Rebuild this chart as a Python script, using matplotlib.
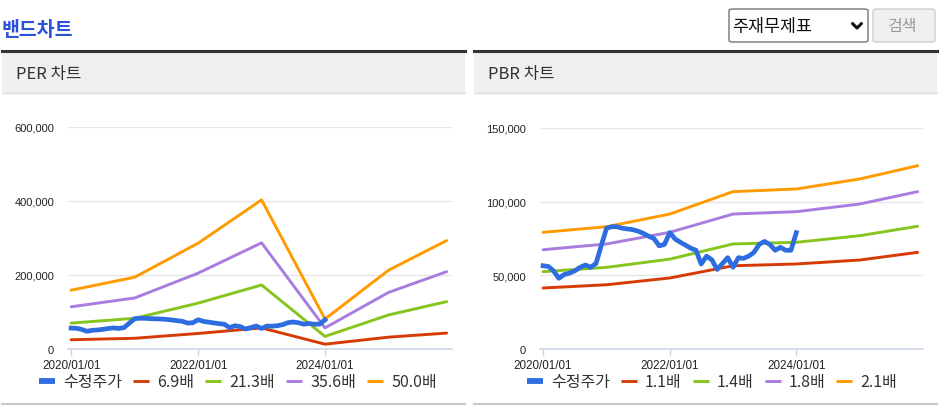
import numpy as np
import pandas as pd
import matplotlib
matplotlib.use("Agg")
from matplotlib import pyplot as plt
from matplotlib.patches import Rectangle, FancyBboxPatch
from matplotlib.lines import Line2D
import matplotlib.dates as mdates

plt.rcParams['font.family'] = ['Liberation Sans', 'Noto Sans CJK KR', 'DejaVu Sans']
KR = ['Noto Sans CJK KR', 'DejaVu Sans']

# ---- data ----
price_dates = pd.date_range('2020-01-01', '2024-01-01', freq='MS')
price = [56500, 56000, 53000, 48000, 50500, 51500, 53000, 55400, 57000, 55500,
         58000, 70000, 82000, 83000, 83000, 82000, 81500, 81000, 80000, 78500,
         76500, 75000, 70000, 71000, 79000, 74600, 72600, 70500, 68500, 67000,
         57700, 63000, 60500, 54000, 58000, 62000, 55500, 62000, 61500, 63000,
         65500, 71000, 73000, 71000, 67000, 69000, 67000, 67000, 79000]

band_dates = pd.to_datetime(['2020-01-01', '2021-01-01', '2022-01-01', '2023-01-01',
                             '2024-01-01', '2025-01-01', '2025-12-01'])

per_labels = ['6.9배', '21.3배', '35.6배', '50.0배']
per_bands = [
    [25000, 29000, 42000, 57000, 13000, 32000, 43000],
    [70000, 83000, 124000, 173000, 34000, 92000, 128000],
    [114000, 138000, 205000, 287000, 57000, 153000, 209000],
    [159000, 194000, 286000, 403000, 81000, 213000, 293000],
]

pbr_labels = ['1.1배', '1.4배', '1.8배', '2.1배']
pbr_bands = [
    [41400, 43600, 48200, 56500, 57700, 60400, 65600],
    [52500, 55400, 61000, 71300, 72400, 76900, 83300],
    [67400, 71300, 79200, 91600, 93200, 98400, 106800],
    [79200, 83000, 91600, 106800, 108600, 115400, 124400],
]

price_color = '#2d6ddf'
band_colors = ['#d63b06', '#86c41e', '#a87ddf', '#ff9a00']

W, H = 939, 410
fig = plt.figure(figsize=(W / 100, H / 100), dpi=100)


def fx(px):
    return px / W


def fy(py):
    return 1 - py / H


# ---- page header ----
fig.text(fx(2), fy(30), '밴드차트', family=KR, fontsize=14, fontweight='bold',
         color='#2a52d9', va='center', ha='left')

fig.patches.append(FancyBboxPatch((fx(729), fy(43)), fx(139), 33 / H,
                                  boxstyle='round,pad=0,rounding_size=0.004',
                                  transform=fig.transFigure, fc='white', ec='#767676', lw=1))
fig.text(fx(732), fy(27), '주재무제표', family=KR, fontsize=12.5, color='#111',
         va='center', ha='left')
# dropdown chevron
fig.lines.append(Line2D([fx(852.5), fx(857), fx(861.5)], [fy(24.5), fy(29), fy(24.5)],
                        transform=fig.transFigure, color='#111', lw=2.2,
                        solid_capstyle='round', solid_joinstyle='round'))
fig.patches.append(FancyBboxPatch((fx(873), fy(43)), fx(62), 33 / H,
                                  boxstyle='round,pad=0,rounding_size=0.004',
                                  transform=fig.transFigure, fc='#efefef', ec='#cfcfcf', lw=1))
fig.text(fx(903), fy(27), '검색', family=KR, fontsize=11.5, color='#9a9a9a',
         va='center', ha='center')


def panel(x0, x1, title):
    fig.patches.append(Rectangle((fx(x0), fy(94)), fx(x1 - x0), 41 / H,
                                 transform=fig.transFigure, fc='#efefef', ec='none'))
    fig.lines.append(Line2D([fx(x0), fx(x1)], [fy(52), fy(52)], transform=fig.transFigure,
                            color='#333333', lw=2.2))
    fig.lines.append(Line2D([fx(x0), fx(x1)], [fy(94), fy(94)], transform=fig.transFigure,
                            color='#dddddd', lw=1))
    fig.lines.append(Line2D([fx(x0), fx(x1)], [fy(405), fy(405)], transform=fig.transFigure,
                            color='#c8c8c8', lw=1.6))
    fig.text(fx(x0 + 14), fy(75), title, family=KR, fontsize=12, color='#333333',
             va='center', ha='left')


panel(2, 465, 'PER 차트')
panel(474, 937, 'PBR 차트')


def band_chart(rect, bands, labels, ymax, step, legend_x):
    ax = fig.add_axes(rect)
    for vals, lab, col in zip(bands, labels, band_colors):
        ax.plot(band_dates, vals, color=col, lw=2.1, label=lab, solid_capstyle='round')
    ax.plot(price_dates, price, color=price_color, lw=3.4, label='수정주가',
            solid_joinstyle='round', zorder=5)

    ax.set_ylim(0, ymax)
    ax.set_xlim(pd.Timestamp('2019-12-14'), pd.Timestamp('2026-01-01'))
    ax.set_yticks(np.arange(0, ymax + 1, step))
    ax.yaxis.set_major_formatter(matplotlib.ticker.FuncFormatter(lambda v, p: f'{int(v):,}'))
    ax.set_xticks(pd.to_datetime(['2020-01-01', '2022-01-01', '2024-01-01']))
    ax.xaxis.set_major_formatter(mdates.DateFormatter('%Y/%m/%d'))

    ax.grid(axis='y', color='#e6e6e6', lw=1)
    ax.set_axisbelow(True)
    for s in ['top', 'right', 'left']:
        ax.spines[s].set_visible(False)
    ax.spines['bottom'].set_color('#ccd6eb')
    ax.spines['bottom'].set_linewidth(1.2)
    ax.tick_params(axis='y', length=0, pad=10, labelsize=8, labelcolor='#222')
    ax.tick_params(axis='x', length=5, color='#ccd6eb', width=1, pad=2,
                   labelsize=8.4, labelcolor='#222')
    ax.set_facecolor('none')

    h, l = ax.get_legend_handles_labels()
    order = [4, 0, 1, 2, 3]
    leg = ax.legend([h[i] for i in order], [l[i] for i in order], ncol=5, frameon=False,
                    loc='center', bbox_to_anchor=(fx(legend_x), fy(383)),
                    bbox_transform=fig.transFigure, prop={'family': KR, 'size': 11.5},
                    handlelength=1.0, handletextpad=0.5, columnspacing=0.7,
                    labelcolor='#333333')
    for line in leg.get_lines():
        line.set_solid_capstyle('butt')
    leg.get_lines()[0].set_linewidth(4.2)
    return ax


band_chart([fx(68), fy(350), fx(384), 222 / H], per_bands, per_labels, 600000, 200000, 238)
band_chart([fx(540), fy(350), fx(383), 221 / H], pbr_bands, pbr_labels, 150000, 50000, 712)

fig.savefig('out.png', dpi=100)
